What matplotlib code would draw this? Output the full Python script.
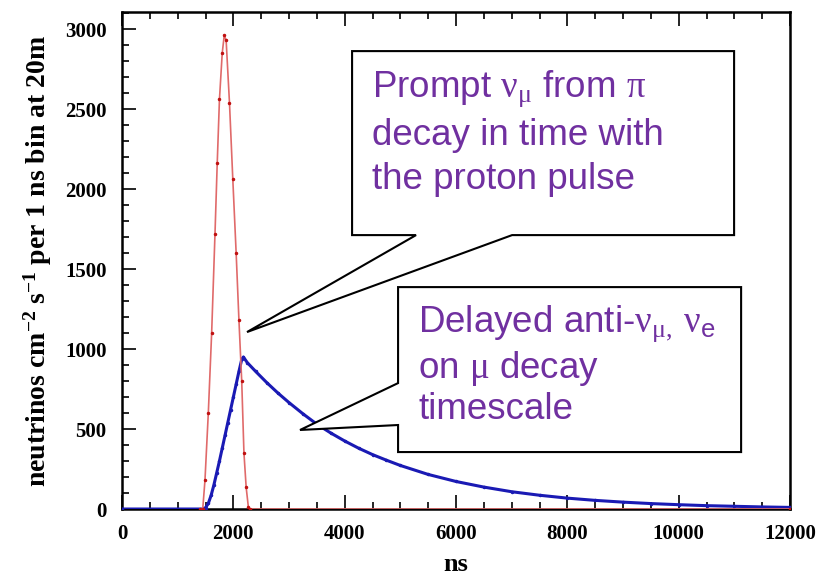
import matplotlib
matplotlib.use("Agg")
import matplotlib.pyplot as plt
from matplotlib.patches import Polygon

plt.rcParams['mathtext.fontset'] = 'custom'
plt.rcParams['mathtext.rm'] = 'Liberation Serif'
plt.rcParams['mathtext.sf'] = 'Liberation Sans'
plt.rcParams['mathtext.bf'] = 'Liberation Serif:bold'
plt.rcParams['mathtext.default'] = 'rm'

# prompt nu_mu flux (pion decay, follows the proton pulse)
prompt_t = [1400, 1450, 1490, 1550, 1610, 1670, 1710, 1750, 1800, 1836,
            1870, 1930, 1990, 2050, 2100, 2150, 2190, 2230, 2270, 2300, 12000]
prompt_v = [0, 0, 180, 600, 1100, 1720, 2160, 2560, 2850, 2960,
            2930, 2540, 2060, 1600, 1180, 800, 350, 135, 10, 0, 0]

# delayed anti-nu_mu / nu_e flux (muon decay)
delayed_t = [0, 1450, 1500, 1550, 1600, 1650, 1700, 1750, 1800, 1850, 1900,
             1950, 2000, 2050, 2100, 2150, 2180, 2250, 2400, 2600, 2800,
             3000, 3250, 3500, 3750, 4000, 4250, 4500, 4750, 5000, 5500,
             6000, 6500, 7000, 7500, 8000, 8500, 9000, 9500, 10000, 10500,
             11000, 11500, 12000]
delayed_v = [0, 0, 8, 35, 85, 150, 225, 300, 380, 460, 540,
             620, 700, 780, 860, 935, 950, 915, 860, 790, 725,
             665, 595, 530, 475, 425, 380, 340, 305, 272, 216,
             172, 137, 108, 86, 68, 54, 43, 34, 27, 21,
             17, 13, 10]

purple = '#7030a0'
serif = 'Liberation Serif'

fig = plt.figure(figsize=(8.3, 5.82), dpi=100)
ax = fig.add_axes([0.147, 0.1254, 0.805, 0.8536])

ax.plot(delayed_t, delayed_v, color='#1a1ab4', lw=2.2, marker='.', ms=3,
        zorder=3)
ax.plot(prompt_t, prompt_v, color='#e06a6a', lw=1.2, marker='.', ms=3,
        mfc='#c01010', mec='#c01010', zorder=4)

ax.set_xlim(0, 12000)
ax.set_ylim(0, 3105)
ax.set_xticks(range(0, 12001, 2000))
ax.set_xticks(range(0, 12001, 500), minor=True)
ax.set_yticks(range(0, 3001, 500))
ax.set_yticks(range(0, 3101, 100), minor=True)
ax.tick_params(which='both', direction='in', top=True, right=False,
               width=1.2, labelsize=15, pad=11)
ax.tick_params(which='major', length=10)
ax.tick_params(which='minor', length=5)
for lab in ax.get_xticklabels() + ax.get_yticklabels():
    lab.set_fontfamily(serif)
    lab.set_fontweight('bold')
for s in ax.spines.values():
    s.set_linewidth(1.8)

ax.set_xlabel('ns', fontfamily=serif, fontweight='bold', fontsize=19,
              labelpad=6)
ax.set_ylabel(r'neutrinos cm$^{\mathbf{-2}}$ s$^{\mathbf{-1}}$ per 1 ns bin at 20m',
              fontfamily=serif, fontweight='bold', fontsize=20, labelpad=8)

# speech-bubble callouts
bubble1 = [(4132, 2862), (10993, 2862), (10993, 1712), (7006, 1712),
           (2245, 1106), (5281, 1712), (4132, 1712)]
bubble2 = [(4958, 1387), (11119, 1387), (11119, 356), (4958, 356),
           (4958, 525), (3197, 494), (4958, 787)]
for pts in (bubble1, bubble2):
    ax.add_patch(Polygon(pts, closed=True, facecolor='white',
                         edgecolor='black', lw=1.5, zorder=5))

ax.text(4491, 2755, 'Prompt $\\nu_{\\mu}$ from $\\pi$\ndecay in time with\nthe proton pulse',
        color=purple, fontsize=26.5, fontfamily='Liberation Sans',
        va='top', ha='left', linespacing=1.34, zorder=6)
ax.text(5317, 1285, 'Delayed anti-$\\nu_{\\mu,}\\,\\nu_{\\mathsf{e}}$\non $\\mu$ decay\ntimescale',
        color=purple, fontsize=26.5, fontfamily='Liberation Sans',
        va='top', ha='left', linespacing=1.15, zorder=6)

fig.savefig('out.png', dpi=100)
